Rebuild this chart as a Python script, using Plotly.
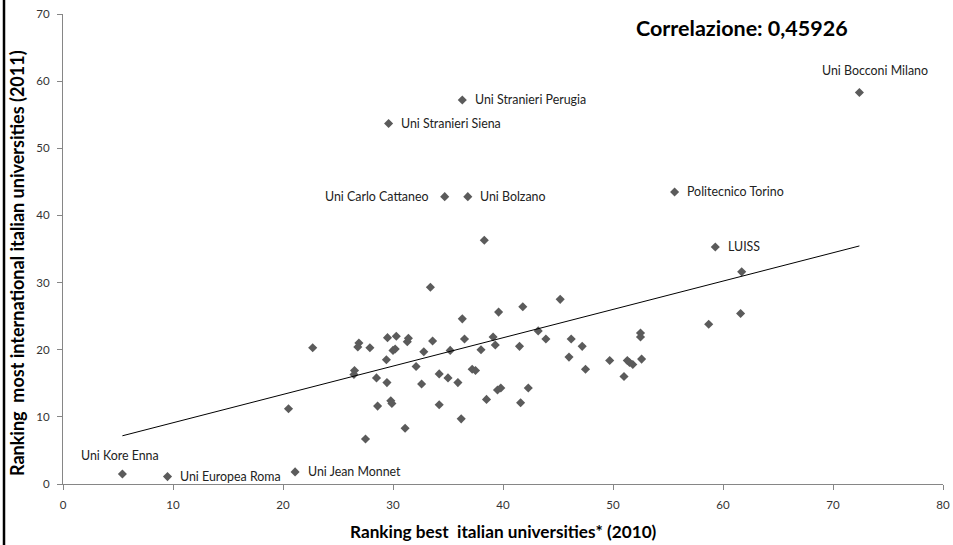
import numpy as np
import plotly.graph_objects as go

# ---- data ----
labeled_names = ["Uni Kore Enna", "Uni Europea Roma", "Uni Jean Monnet",
                 "Uni Stranieri Perugia", "Uni Stranieri Siena", "Uni Carlo Cattaneo",
                 "Uni Bolzano", "Uni Bocconi Milano", "Politecnico Torino", "LUISS"]
labeled_x = [5.4, 9.5, 21.1, 36.3, 29.6, 34.7, 36.8, 72.4, 55.6, 59.3]
labeled_y = [1.5, 1.1, 1.8, 57.2, 53.7, 42.8, 42.8, 58.3, 43.5, 35.3]

other_x = [38.3, 61.7, 20.5, 22.7, 26.5, 26.45, 26.9, 26.8, 27.9, 27.5, 28.5, 28.6,
           29.5, 29.4, 29.45, 29.8, 29.9, 30.0, 30.2, 30.3, 31.1, 31.3, 31.4, 32.1,
           32.6, 32.8, 33.4, 33.6, 34.2, 34.2, 35.0, 35.2, 35.9, 36.3, 36.2, 36.5,
           37.2, 37.5, 38.0, 38.5, 39.1, 39.3, 39.6, 39.5, 39.8, 41.5, 41.6, 41.8,
           42.3, 43.2, 43.9, 45.2, 46.2, 46.0, 47.2, 47.5, 49.7, 51.0, 51.3, 51.5,
           51.8, 52.6, 52.5, 52.5, 58.7, 61.6]
other_y = [36.3, 31.6, 11.2, 20.3, 16.9, 16.3, 21.0, 20.4, 20.3, 6.7, 15.8, 11.6,
           21.8, 18.5, 15.1, 12.4, 12.0, 19.9, 20.1, 22.0, 8.3, 21.2, 21.7, 17.5,
           14.9, 19.7, 29.3, 21.3, 16.4, 11.8, 15.8, 19.9, 15.1, 24.6, 9.7, 21.6,
           17.1, 16.9, 20.0, 12.6, 21.9, 20.7, 25.6, 14.0, 14.3, 20.5, 12.1, 26.4,
           14.3, 22.8, 21.6, 27.5, 21.6, 18.9, 20.5, 17.1, 18.4, 16.0, 18.4, 18.1,
           17.8, 18.6, 22.5, 21.9, 23.8, 25.4]

x_ticks = [0, 10, 20, 30, 40, 50, 60, 70, 80]
y_ticks = [0, 10, 20, 30, 40, 50, 60, 70]

title_text = "Correlazione: 0,45926"
x_title = "Ranking best\u00a0 italian universities* (2010)"
y_title = "Ranking\u00a0 most international italian universities (2011)"

# ---- derived ----
all_x = np.array(labeled_x + other_x)
all_y = np.array(labeled_y + other_y)
slope, intercept = np.polyfit(all_x, all_y, 1)
line_x = np.array([all_x.min(), all_x.max()])
line_y = slope * line_x + intercept

FONT = "Lato"
MARK = "#5b5b5b"
AXIS = "#868686"
L, R, T, B = 63, 10, 14, 61
W = 953 - L - R
H = 545 - T - B


def px_x(p):
    return (p - L) / W


def px_y(p):
    return 1 - (p - T) / H


fig = go.Figure()
fig.add_trace(go.Scatter(x=all_x, y=all_y, mode="markers",
                         marker=dict(symbol="diamond", size=7, color=MARK),
                         showlegend=False, hoverinfo="x+y"))
fig.add_trace(go.Scatter(x=line_x, y=line_y, mode="lines",
                         line=dict(color="black", width=1), showlegend=False))

# label placement (style)
placement = {
    "Uni Kore Enna": ("center", -2, 18),
    "Uni Bocconi Milano": ("center", 16, 22),
    "Uni Carlo Cattaneo": ("right", -14, 0),
}
annotations = []
for n, x, y in zip(labeled_names, labeled_x, labeled_y):
    anchor, dx, dy = placement.get(n, ("left", 10.5, 0))
    annotations.append(dict(x=x, y=y, xref="x", yref="y", text=n, showarrow=False,
                            xanchor=anchor, yanchor="middle", xshift=dx, yshift=dy,
                            font=dict(family=FONT, size=12.4, color="#222222")))

annotations.append(dict(x=px_x(742), y=px_y(28), xref="paper", yref="paper",
                        xanchor="center", yanchor="middle",
                        text="<b>%s</b>" % title_text, showarrow=False,
                        font=dict(family=FONT, size=21.5, color="black")))
annotations.append(dict(x=px_x(503), y=px_y(531), xref="paper", yref="paper",
                        xanchor="center", yanchor="middle",
                        text="<b>%s</b>" % x_title, showarrow=False,
                        font=dict(family=FONT, size=17.2, color="black")))
annotations.append(dict(x=px_x(17), y=px_y(263), xref="paper", yref="paper",
                        xanchor="center", yanchor="middle", textangle=-90,
                        text="<b>%s</b>" % y_title, showarrow=False,
                        font=dict(family=FONT, size=18, color="black")))

fig.update_layout(
    width=953, height=545,
    margin=dict(l=L, r=R, t=T, b=B, autoexpand=False),
    paper_bgcolor="white", plot_bgcolor="white",
    annotations=annotations,
    font=dict(family=FONT, size=11, color="#333333"),
)

fig.update_xaxes(range=[0, 80], tickvals=x_ticks, showgrid=False, zeroline=False,
                 showline=True, linecolor=AXIS, linewidth=1, automargin=False,
                 ticks="outside", ticklen=5, tickcolor=AXIS, ticklabelstandoff=5,
                 tickfont=dict(family=FONT, size=11.5, color="#333333"))
fig.update_yaxes(range=[0, 70], tickvals=y_ticks, showgrid=False, zeroline=False,
                 showline=True, linecolor=AXIS, linewidth=1, automargin=False,
                 ticks="outside", ticklen=5, tickcolor=AXIS, ticklabelstandoff=5,
                 tickfont=dict(family=FONT, size=11.5, color="#333333"))

# thick black line at the left edge of the image
fig.add_shape(type="line", xref="paper", yref="paper",
              x0=px_x(4), x1=px_x(4), y0=px_y(545), y1=px_y(0),
              line=dict(color="black", width=2.5))

fig.write_html("out.html")
